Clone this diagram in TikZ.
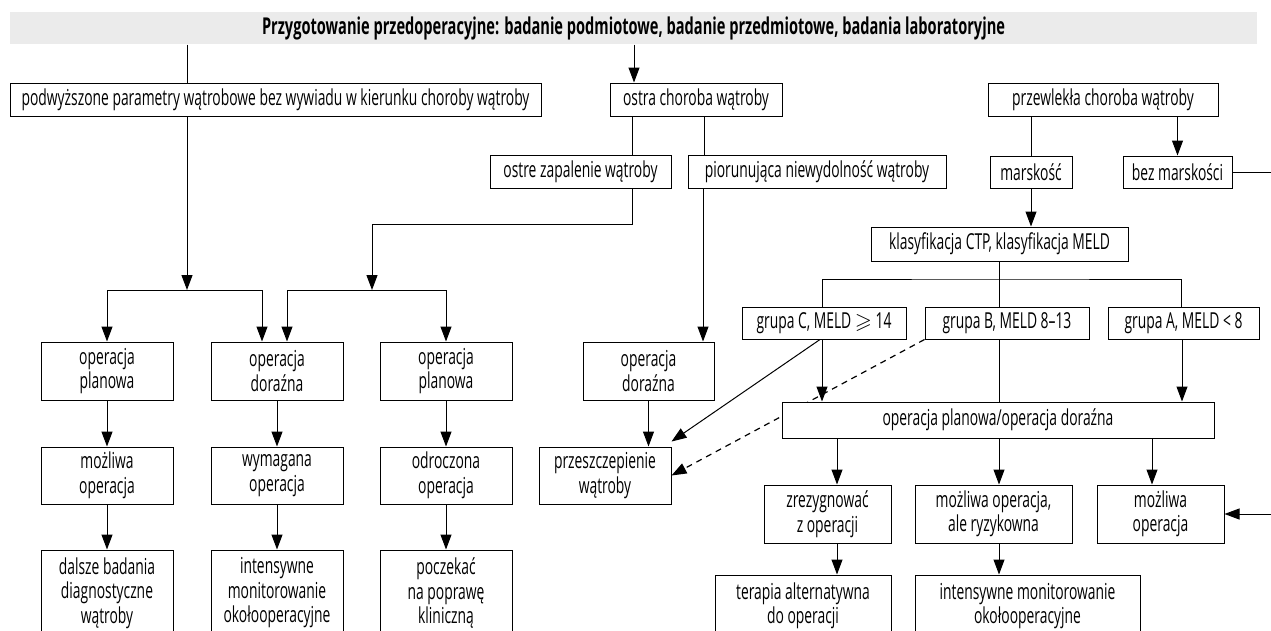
\documentclass[tikz,border=0pt]{standalone}
\usepackage{fontspec}
\setmainfont[FakeStretch=0.63]{Open Sans}
\usepackage{amssymb}
\usetikzlibrary{arrows.meta,backgrounds}

\begin{document}
\begin{tikzpicture}[x=1pt,y=-1pt,line width=1pt,
  box/.style={draw,fill=white,inner sep=0pt,align=center,font=\fontsize{22}{24.5}\selectfont,minimum height=33pt},
  two/.style={box,minimum width=132pt,minimum height=58pt},
  arr/.style={-{Triangle[length=15pt,width=11pt]}}]
  \useasboundingbox (0,0) rectangle (1271,630);
  \clip (0,0) rectangle (1271,630);
  \node[fill=black!8,inner sep=0pt,minimum width=1247pt,minimum height=32pt,font=\bfseries\fontsize{23.2}{25}\selectfont] (top) at (633.5,28) {Przygotowanie przedoperacyjne: badanie podmiotowe, badanie przedmiotowe, badania laboratoryjne};
  \node[box,minimum width=531pt] (podw) at (275.5,99.5) {podwyższone parametry wątrobowe bez wywiadu w kierunku choroby wątroby};
  \node[box,minimum width=172pt] (ostra) at (696,99.5) {ostra choroba wątroby};
  \node[box,minimum width=230pt] (przew) at (1103,99.5) {przewlekła choroba wątroby};
  \node[box,minimum width=181pt] (zapal) at (580.5,171.5) {ostre zapalenie wątroby};
  \node[box,minimum width=258pt] (piorun) at (817,171.5) {piorunująca niewydolność wątroby};
  \node[box,minimum width=82pt,minimum height=32pt] (marsk) at (1031,172) {marskość};
  \node[box,minimum width=109pt,minimum height=32pt] (bezm) at (1177.5,172) {bez marskości};
  \node[box,minimum width=257pt,minimum height=34pt] (klas) at (999.5,244) {klasyfikacja CTP, klasyfikacja MELD};
  \node[box,minimum width=164pt,minimum height=32pt] (grC) at (824,323) {grupa C, MELD $\geqslant$ 14};
  \node[box,minimum width=164pt,minimum height=32pt] (grB) at (1007,323) {grupa B, MELD 8–13};
  \node[box,minimum width=151pt,minimum height=32pt] (grA) at (1183.5,323) {grupa A, MELD < 8};

  \node[two] (plan1) at (107,371) {operacja\\planowa};
  \node[two] (dor1) at (277,371) {operacja\\doraźna};
  \node[two] (plan2) at (446,371) {operacja\\planowa};
  \node[two,minimum width=131pt] (dor2) at (648.5,371) {operacja\\doraźna};
  \node[two,minimum height=57pt] (mozl1) at (107,475.5) {możliwa\\operacja};
  \node[two,minimum height=57pt] (wym) at (277,475.5) {wymagana\\operacja};
  \node[two,minimum height=57pt] (odr) at (446,475.5) {odroczona\\operacja};
  \node[two,minimum height=57pt] (przesz) at (605,475.5) {przeszczepienie\\wątroby};
  \node[two,minimum height=86pt] (dalsze) at (107,593) {dalsze badania\\diagnostyczne\\wątroby};
  \node[two,minimum height=86pt] (inten1) at (277,593) {intensywne\\monitorowanie\\okołooperacyjne};
  \node[two,minimum height=86pt] (pocz) at (446,593) {poczekać\\na poprawę\\kliniczną};

  \node[box,minimum width=432pt,minimum height=36pt] (opPD) at (998,420) {operacja planowa/operacja doraźna};
  \node[box,minimum width=127pt,minimum height=58pt] (rez) at (827.5,514) {zrezygnować\\z operacji};
  \node[box,minimum width=157pt,minimum height=58pt] (ryz) at (993.5,514) {możliwa operacja,\\ale ryzykowna};
  \node[box,minimum width=127pt,minimum height=58pt] (mozl2) at (1160.5,514) {możliwa\\operacja};
  \node[box,minimum width=176pt,minimum height=62pt] (terap) at (803,606) {terapia alternatywna\\do operacji};
  \node[box,minimum width=225pt,minimum height=62pt] (inten2) at (1027.5,606) {intensywne monitorowanie\\okołooperacyjne};

  \coordinate (j1) at (187,290);
  \coordinate (j2) at (372,290);
  \coordinate (j3) at (999,279);
  \draw (top.south -| j1) -- (podw.north -| j1);
  \draw[arr] (top.south -| 634,0) -- (ostra.north -| 634,0);
  \draw[arr] (podw.south -| j1) -- (j1);
  \draw[arr] (j1) -| (plan1.north);
  \draw[arr] (j1) -| ([xshift=-15pt]dor1.north);
  \draw (ostra.south -| 632,0) -- (zapal.north -| 632,0);
  \draw (ostra.south -| 704,0) -- (piorun.north -| 704,0);
  \draw[arr] (zapal.south -| 632,0) |- (372,224) -- (j2);
  \draw[arr] (j2) -| ([xshift=10pt]dor1.north);
  \draw[arr] (j2) -| (plan2.north);
  \draw[arr] (piorun.south -| 703,0) -- (dor2.north -| 703,0);
  \draw[arr] (dor2.south) -- (przesz.north -| dor2.south);
  \foreach \a/\b in {plan1/mozl1,mozl1/dalsze,dor1/wym,wym/inten1,plan2/odr,odr/pocz}
    \draw[arr] (\a) -- (\b);

  \draw (przew.south -| marsk.north) -- (marsk.north);
  \draw[arr] (przew.south -| bezm.north) -- (bezm.north);
  \draw[arr] (marsk.south) -- (marsk.south |- klas.north);
  \draw[arr] (bezm.east) -- ++(50,0) |- (mozl2.east);
  \draw (klas.south -| j3) -- (j3);
  \draw (grC.north -| 822,0) |- (j3) -| (grA.north -| 1181,0);
  \draw (j3) -- (grB.north -| j3);
  \draw[arr] (grC.south -| 822,0) -- (opPD.north -| 822,0);
  \draw (grB.south -| j3) -- (opPD.north -| j3);
  \draw[arr] (grA.south -| 1182,0) -- (opPD.north -| 1182,0);
  \draw[arr] ([xshift=-4pt]grC.south) -- ([yshift=5pt]przesz.north east);
  \begin{scope}[on background layer]
    \draw[arr,line width=1.2pt,dash pattern=on 6pt off 5pt] (grB.south west) -- (przesz.east);
  \end{scope}
  \draw[arr] (opPD.south -| 837,0) -- (rez.north -| 837,0);
  \draw[arr] (opPD.south -| 999,0) -- (ryz.north -| 999,0);
  \draw[arr] (opPD.south -| 1152,0) -- (mozl2.north -| 1152,0);
  \draw[arr] (rez.south -| 837,0) -- (terap.north -| 837,0);
  \draw[arr] (ryz.south -| 999,0) -- (inten2.north -| 999,0);
\end{tikzpicture}
\end{document}
